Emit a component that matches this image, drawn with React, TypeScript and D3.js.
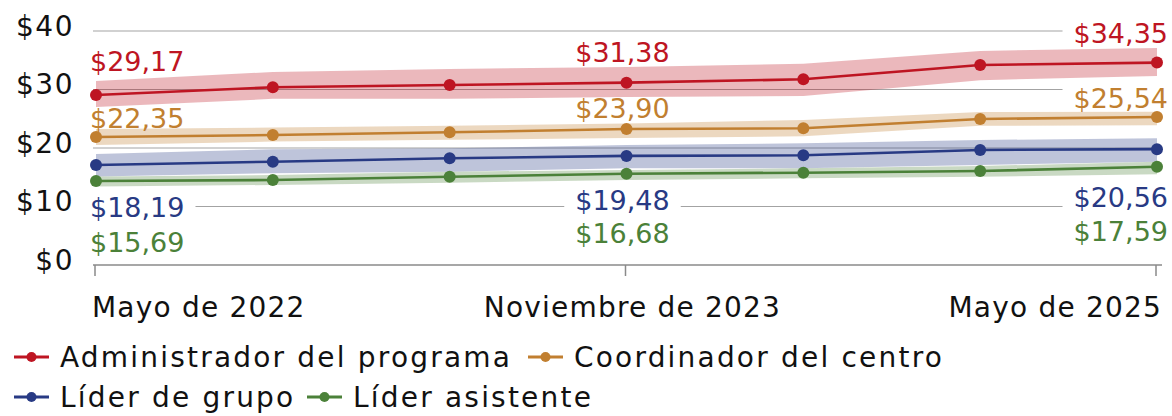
import React, { useEffect, useRef } from "react";
import * as d3 from "d3";

const periods = [
  "Mayo de 2022",
  "Noviembre de 2022",
  "Mayo de 2023",
  "Noviembre de 2023",
  "Mayo de 2024",
  "Noviembre de 2024",
  "Mayo de 2025",
];
const tickPeriods = ["Mayo de 2022", "Noviembre de 2023", "Mayo de 2025"];
const yTicks = [0, 10, 20, 30, 40];
const yTickLabels = ["$0", "$10", "$20", "$30", "$40"];

const seriesNames = [
  "Administrador del programa",
  "Coordinador del centro",
  "Líder de grupo",
  "Líder asistente",
];
const seriesColors = ["#BE1522", "#C17F30", "#283A84", "#4B8139"];

const adminValues = [29.06, 30.38, 30.77, 31.17, 31.74, 34.19, 34.6];
const adminLow = [27.0, 28.4, 28.4, 28.7, 28.9, 31.6, 32.3];
const adminHigh = [31.45, 33.0, 33.5, 33.85, 34.4, 36.6, 37.1];

const coordValues = [21.88, 22.22, 22.68, 23.25, 23.37, 24.96, 25.3];
const coordLow = [20.5, 21.1, 21.4, 21.7, 22.0, 23.8, 23.9];
const coordHigh = [23.25, 23.5, 23.8, 24.2, 24.8, 26.15, 26.2];

const groupValues = [17.09, 17.66, 18.24, 18.65, 18.75, 19.66, 19.8];
const groupLow = [15.13, 15.68, 15.95, 16.53, 16.53, 17.09, 17.66];
const groupHigh = [18.97, 19.78, 19.95, 20.51, 20.8, 21.37, 21.66];

const assistValues = [14.36, 14.53, 15.09, 15.6, 15.78, 16.07, 16.8];
const assistLow = [13.42, 13.68, 14.07, 14.53, 14.82, 15.09, 15.5];
const assistHigh = [15.13, 15.38, 15.95, 16.24, 16.53, 16.92, 17.66];

const labelIndices = [0, 3, 6];
const adminLabels = ["$29,17", "$31,38", "$34,35"];
const coordLabels = ["$22,35", "$23,90", "$25,54"];
const groupLabels = ["$18,19", "$19,48", "$20,56"];
const assistLabels = ["$15,69", "$16,68", "$17,59"];

const FONT = "'DejaVu Sans', sans-serif";

export default function App() {
  const ref = useRef<SVGSVGElement>(null);

  useEffect(() => {
    const svg = d3.select(ref.current!);
    svg.selectAll("*").remove();

    const x = d3.scalePoint<string>().domain(periods).range([96, 1157]);
    const y = d3.scaleLinear().domain([0, 40]).range([265, 31]);

    const series = [
      { name: seriesNames[0], color: seriesColors[0], values: adminValues, low: adminLow, high: adminHigh, labels: adminLabels, dy: [-24, -21, -20] },
      { name: seriesNames[1], color: seriesColors[1], values: coordValues, low: coordLow, high: coordHigh, labels: coordLabels, dy: [-9, -11, -9] },
      { name: seriesNames[2], color: seriesColors[2], values: groupValues, low: groupLow, high: groupHigh, labels: groupLabels, dy: [52, 54, 58] },
      { name: seriesNames[3], color: seriesColors[3], values: assistValues, low: assistLow, high: assistHigh, labels: assistLabels, dy: [71, 69, 74] },
    ];

    // gridlines
    const grid = svg.append("g");
    grid
      .selectAll("line")
      .data(yTicks.filter((t) => t > 0))
      .join("line")
      .attr("x1", 93)
      .attr("x2", 1160)
      .attr("y1", (d) => y(d))
      .attr("y2", (d) => y(d))
      .attr("stroke", "#a3a3a3")
      .attr("stroke-width", 1.2);

    // y labels
    svg
      .append("g")
      .selectAll("text")
      .data(yTicks)
      .join("text")
      .attr("x", 74)
      .attr("y", (d) => y(d) + 4.5)
      .attr("text-anchor", "end")
      .attr("font-family", FONT)
      .attr("font-size", 28)
      .attr("letter-spacing", 1.5)
      .attr("fill", "#111")
      .text((d, i) => yTickLabels[i]);

    const bgLayer = svg.append("g");
    const bandLayer = svg.append("g");
    const lineLayer = svg.append("g");
    const labelLayer = svg.append("g");

    series.forEach((s) => {
      const idx = d3.range(periods.length);
      const area = d3
        .area<number>()
        .x((i) => x(periods[i])!)
        .y0((i) => y(s.low[i]))
        .y1((i) => y(s.high[i]));
      bandLayer
        .append("path")
        .attr("d", area(idx)!)
        .attr("fill", s.color)
        .attr("fill-opacity", 0.3);

      const line = d3
        .line<number>()
        .x((i) => x(periods[i])!)
        .y((i) => y(s.values[i]));
      lineLayer
        .append("path")
        .attr("d", line(idx)!)
        .attr("fill", "none")
        .attr("stroke", s.color)
        .attr("stroke-width", 2.6);
      lineLayer
        .append("g")
        .selectAll("circle")
        .data(idx)
        .join("circle")
        .attr("cx", (i) => x(periods[i])!)
        .attr("cy", (i) => y(s.values[i]))
        .attr("r", 6)
        .attr("fill", s.color);

      labelIndices.forEach((pi, k) => {
        const px = x(periods[pi])!;
        const py = y(s.values[pi]) + s.dy[k];
        const anchor = k === 0 ? "start" : k === 1 ? "middle" : "end";
        const tx = k === 0 ? px - 6 : k === 1 ? px - 4 : px + 11;
        const t = labelLayer
          .append("text")
          .attr("x", tx)
          .attr("y", py)
          .attr("text-anchor", anchor)
          .attr("font-family", FONT)
          .attr("font-size", 27)
          .attr("fill", s.color)
          .text(s.labels[k]);
        const bb = (t.node() as SVGTextElement).getBBox();
        bgLayer
          .append("rect")
          .attr("x", bb.x - 11)
          .attr("y", bb.y)
          .attr("width", bb.width + 22)
          .attr("height", bb.height)
          .attr("fill", "#fff");
      });
    });

    // x axis
    const axis = svg.append("g");
    axis
      .append("line")
      .attr("x1", 93)
      .attr("x2", 1162)
      .attr("y1", 265)
      .attr("y2", 265)
      .attr("stroke", "#8a8a8a")
      .attr("stroke-width", 1.5);
    axis
      .selectAll("line.tick")
      .data(tickPeriods)
      .join("line")
      .attr("class", "tick")
      .attr("x1", (d) => x(d)! - 1)
      .attr("x2", (d) => x(d)! - 1)
      .attr("y1", 265)
      .attr("y2", 276)
      .attr("stroke", "#8a8a8a")
      .attr("stroke-width", 1.5);
    axis
      .selectAll("text")
      .data(tickPeriods)
      .join("text")
      .attr("x", (d, i) => (i === 0 ? x(d)! - 4 : i === 1 ? x(d)! + 6 : x(d)! + 5))
      .attr("y", 317)
      .attr("text-anchor", (d, i) => (i === 0 ? "start" : i === 1 ? "middle" : "end"))
      .attr("font-family", FONT)
      .attr("font-size", 28)
      .attr("letter-spacing", 1.2)
      .attr("fill", "#111")
      .text((d) => d);

    // legend
    const legendPos = [
      { x: 14, y: 357 },
      { x: 528, y: 357 },
      { x: 14, y: 397 },
      { x: 307, y: 397 },
    ];
    const legend = svg.append("g");
    series.forEach((s, i) => {
      const p = legendPos[i];
      const g = legend.append("g").attr("transform", `translate(${p.x},${p.y})`);
      g.append("line").attr("x1", 0).attr("x2", 35).attr("y1", 0).attr("y2", 0).attr("stroke", s.color).attr("stroke-width", 3);
      g.append("circle").attr("cx", 17.5).attr("cy", 0).attr("r", 5).attr("fill", s.color);
      g.append("text")
        .attr("x", 46)
        .attr("y", 10)
        .attr("font-family", FONT)
        .attr("font-size", 28)
        .attr("letter-spacing", 2.2)
        .attr("fill", "#111")
        .text(s.name);
    });
  }, []);

  return (
    <svg
      ref={ref}
      width={1172}
      height={416}
      style={{ position: "absolute", left: 0, top: 0, background: "#fff" }}
    />
  );
}
